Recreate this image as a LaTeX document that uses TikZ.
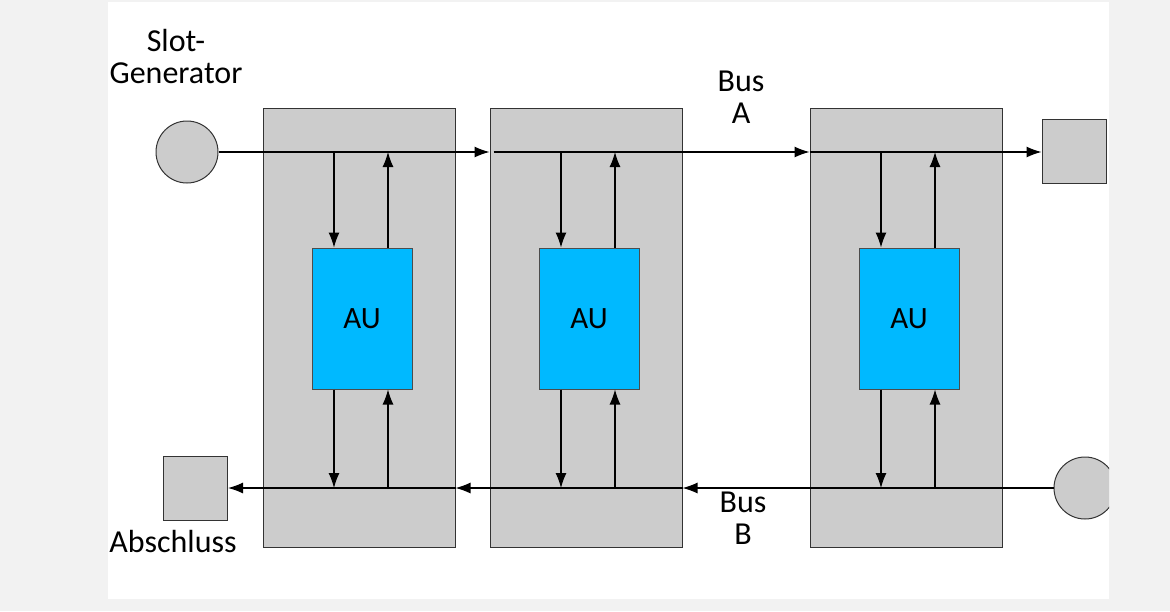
\documentclass[tikz,border=0pt]{standalone}
\usepackage{fontspec}
\setmainfont{Carlito}
\usetikzlibrary{arrows.meta,positioning}
\definecolor{boxgray}{RGB}{204,204,204}
\definecolor{aublue}{RGB}{0,185,255}
\definecolor{bggray}{RGB}{242,242,242}
\begin{document}
\begin{tikzpicture}[x=1pt,y=-1pt,
  station/.style={draw=black!80, fill=boxgray, line width=1pt, minimum width=192pt, minimum height=439pt},
  au/.style={draw=black!70, fill=aublue, line width=1pt, minimum width=100pt, minimum height=141pt, font=\fontsize{31}{34}\selectfont},
  term/.style={draw=black!80, fill=boxgray, line width=1pt, minimum size=64pt, inner sep=0pt},
  gen/.style={circle, draw=black!80, fill=boxgray, line width=1pt, minimum size=62pt, inner sep=0pt},
  lbl/.style={align=center, font=\fontsize{32}{32}\selectfont},
  bus/.style={line width=1.2pt, -{Latex[length=15pt,width=11pt]}}]
  % background and sheet
  \fill[bggray] (0,0) rectangle (1170,611);
  \fill[white] (108,2) rectangle (1109,599);
  \useasboundingbox (0,0) rectangle (1170,611);

  % stations
  \node [station] (s1) at (359,327.5) {};
  \node [station] (s2) at (586,327.5) {};
  \node [station] (s3) at (906,327.5) {};
  \node [au] (au1) at (362,318.5) {AU};
  \node [au] (au2) at (589,318.5) {AU};
  \node [au] (au3) at (909,318.5) {AU};

  % generators and ends
  \node [gen] (genA) at (187,152) {};
  \node [term] (endA) at (1074,151) {};
  \begin{scope}
    \clip (108,2) rectangle (1109,599);
    \node [gen] (genB) at (1085,488) {};
  \end{scope}
  \node [term] (endB) at (195.5,488) {};

  % labels
  \node [lbl] (lgen) at (176,57) {Slot-\\Generator};
  \node [lbl] (lbusA) at (741,97) {Bus\\A};
  \node [lbl] (lbusB) at (743,518) {Bus\\B};
  \node [lbl] (lend) at (173,541) {Abschluss};

  % bus A
  \coordinate (a2) at (s2.west |- genA);
  \coordinate (a3) at (s3.west |- genA);
  \draw [bus] (genA) -- (a2);
  \draw [bus] ([xshift=4pt]a2) -- (a3);
  \draw [bus] (a3) -- (endA.west |- genA);

  % bus B
  \coordinate (b2) at (s2.east |- genB);
  \coordinate (b1) at (s1.east |- genB);
  \draw [bus] (genB) -- (b2);
  \draw [bus] (b2) -- (b1);
  \draw [bus] (b1) -- (endB);

  % station access
  \foreach \i in {1,2,3} {
    \draw [bus] ([xshift=-28pt]au\i.north |- genA) -- ([xshift=-28pt]au\i.north);
    \draw [bus] ([xshift=26pt]au\i.north) -- ([xshift=26pt]au\i.north |- genA);
    \draw [bus] ([xshift=-28pt]au\i.south) -- ([xshift=-28pt]au\i.south |- genB);
    \draw [bus] ([xshift=26pt]au\i.south |- genB) -- ([xshift=26pt]au\i.south);
  }
\end{tikzpicture}
\end{document}
